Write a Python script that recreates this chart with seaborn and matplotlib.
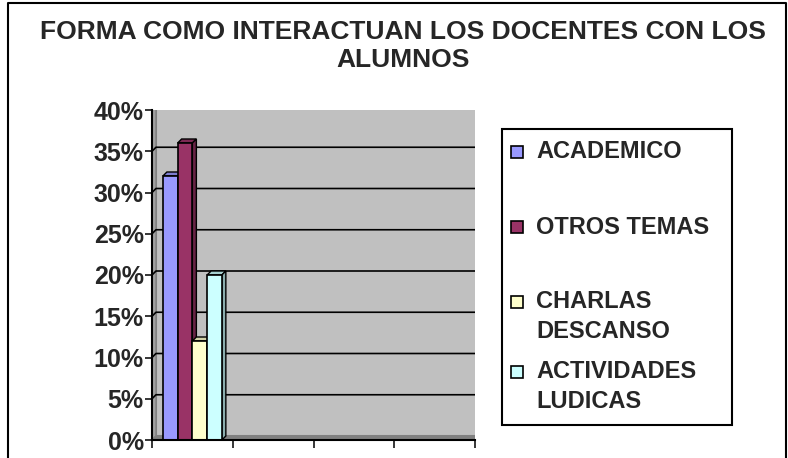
import numpy as np
import pandas as pd
import seaborn as sns
import matplotlib.pyplot as plt
from matplotlib.patches import Polygon, Rectangle
from matplotlib.lines import Line2D
from matplotlib.ticker import PercentFormatter
from matplotlib.colors import to_rgb

# Data
series = ["ACADEMICO", "OTROS TEMAS", "CHARLAS DESCANSO", "ACTIVIDADES LUDICAS"]
legend_labels = ["ACADEMICO", "OTROS TEMAS", "CHARLAS\nDESCANSO", "ACTIVIDADES\nLUDICAS"]
values = [32, 36, 12, 20]
colors = ["#9999FF", "#993366", "#FFFFCC", "#CCFFFF"]
title = "FORMA COMO INTERACTUAN LOS DOCENTES CON LOS\nALUMNOS"
y_ticks = [0, 5, 10, 15, 20, 25, 30, 35, 40]
n_slots = 4

df = pd.DataFrame({"grupo": [""] * len(series), "serie": series, "valor": values})

sns.set_style("white")
plt.rcParams["font.family"] = ["Liberation Sans", "DejaVu Sans"]

W, H = 788, 458
fig = plt.figure(figsize=(W / 100, H / 100), dpi=100)
ax = fig.add_axes([152 / W, 1 - 440 / H, (475 - 152) / W, (440 - 110) / H])
ax.set_facecolor("none")

sns.barplot(data=df, x="grupo", y="valor", hue="serie", palette=colors,
            width=0.73, legend=False, ax=ax, edgecolor="black", linewidth=1.2,
            saturation=1)

ax.set_xlim(-0.5, n_slots - 0.5)
ax.set_ylim(0, 40)
ax.set_yticks(y_ticks)
ax.yaxis.set_major_formatter(PercentFormatter(decimals=0))
ax.set_xticks(np.arange(n_slots + 1) - 0.5)
ax.set_xticklabels([])
ax.set_xlabel("")
ax.set_ylabel("")
for lab in ax.get_yticklabels():
    lab.set_fontweight("bold")
ax.tick_params(axis="y", direction="out", length=5, width=1.3, labelsize=18, pad=1, left=True)
ax.tick_params(axis="x", direction="out", length=6, width=1.3, bottom=True)
for s in ["top", "right"]:
    ax.spines[s].set_visible(False)
for s in ["left", "bottom"]:
    ax.spines[s].set_color("black")
    ax.spines[s].set_linewidth(1.5)
    ax.spines[s].set_zorder(10)

# depth offset (pixels) converted to data units
dpx = 4
p0 = ax.transData.transform((0, 0))
dx, dy = ax.transData.inverted().transform(p0 + np.array([dpx, dpx]))
x0, x1 = ax.get_xlim()
y0, y1 = ax.get_ylim()

# back wall, left wall, floor
ax.add_patch(Rectangle((x0 + dx, y0 + dy), x1 - x0, y1 - y0, facecolor="#C0C0C0",
                       edgecolor="#808080", linewidth=1.5, zorder=0))
ax.add_patch(Polygon([(x0, y0), (x0 + dx, y0 + dy), (x0 + dx, y1 + dy), (x0, y1)],
                     facecolor="#A0A0A0", edgecolor="#808080", linewidth=1, zorder=0.1))
ax.add_patch(Polygon([(x0, y0), (x1, y0), (x1 + dx, y0 + dy), (x0 + dx, y0 + dy)],
                     facecolor="#808080", edgecolor="#808080", linewidth=1, zorder=0.1))
for t in y_ticks[1:-1]:
    ax.plot([x0, x0 + dx, x1 + dx], [t, t + dy, t + dy], color="black", lw=1.2, zorder=0.5)
ax.plot([x0, x0 + dx], [y1, y1 + dy], color="black", lw=1.2, zorder=0.5)


def shade(c, f):
    r, g, b = to_rgb(c)
    return (r * f, g * f, b * f)


# 3D faces on the bars
for i, (bar, c) in enumerate(zip(ax.patches[:len(series)], colors)):
    bx, bw, bh = bar.get_x(), bar.get_width(), bar.get_height()
    z = 2 + i * 0.1
    bar.set_zorder(z + 0.05)
    ax.add_patch(Polygon([(bx, bh), (bx + bw, bh), (bx + bw + dx, bh + dy), (bx + dx, bh + dy)],
                         facecolor=shade(c, 0.82), edgecolor="black", lw=1.0, zorder=z))
    ax.add_patch(Polygon([(bx + bw, 0), (bx + bw + dx, dy), (bx + bw + dx, bh + dy), (bx + bw, bh)],
                         facecolor=shade(c, 0.68), edgecolor="black", lw=1.0, zorder=z))

# title
fig.text(403 / W, 1 - 46 / H, title, ha="center", va="center", fontsize=19,
         fontweight="bold", linespacing=1.22)

# legend (Excel-style box, markers aligned with the first line of each label)
fig.patches.append(Rectangle((502 / W, 1 - 425 / H), 230 / W, 296 / H, transform=fig.transFigure,
                             facecolor="white", edgecolor="black", linewidth=1.5))
entry_y = [152, 227, 302, 372]
line_pitch = 29
for lab, c, ey in zip(legend_labels, colors, entry_y):
    fig.patches.append(Rectangle((511 / W, 1 - (ey + 6) / H), 12 / W, 12 / H,
                                 transform=fig.transFigure, facecolor=c,
                                 edgecolor="black", linewidth=1.2))
    for k, line in enumerate(lab.split("\n")):
        fig.text(536 / W, 1 - (ey + k * line_pitch) / H, line, ha="left", va="center",
                 fontsize=17, fontweight="bold")

# outer border (left, top, right)
top = 1 - 3 / H
fig.add_artist(Line2D([8 / W, 8 / W, 786 / W, 786 / W], [0, top, top, 0], color="black", lw=1.5))

fig.savefig("out.png", dpi=100)
